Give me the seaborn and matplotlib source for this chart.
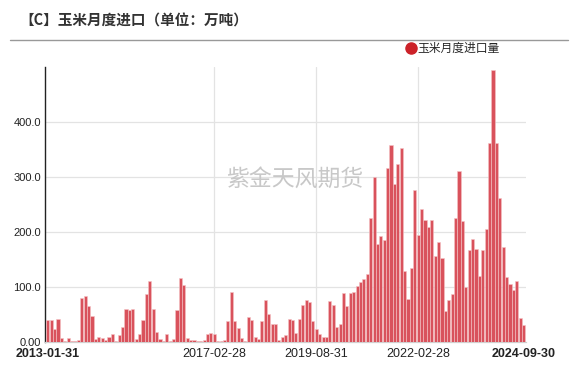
import matplotlib
matplotlib.use("Agg")
import matplotlib.pyplot as plt
from matplotlib.lines import Line2D
import pandas as pd
import seaborn as sns

# monthly corn imports (10k tons), 2013-01 .. 2024-09
values = [
    39, 39, 23, 41, 6, 1, 6, 1, 0.5, 3, 79, 82,          # 2013
    64, 47, 4, 9, 7, 3, 8, 13, 1.5, 11, 26, 60,           # 2014
    58, 60, 5, 14, 40, 87, 110, 60, 17, 4, 1.5, 13,       # 2015
    1, 5, 57, 116, 103, 6, 3, 3, 1.5, 1, 3, 13,           # 2016
    15, 13, 1, 0.5, 3, 37, 91, 37, 24, 6, 1.5, 44,        # 2017
    39, 9, 5, 37, 75, 51, 32, 32, 3, 8, 11, 41,           # 2018
    39, 16, 41, 66, 75, 72, 38, 22, 13, 8, 9, 73,         # 2019
    66, 26, 31, 89, 64, 88, 91, 102, 108, 113, 123, 225,  # 2020
    300, 178, 193, 185, 316, 357, 286, 324, 353, 129, 78, 133,  # 2021
    276, 194, 242, 222, 208, 222, 155, 181, 153, 55, 75, 87,    # 2022
    225, 310, 220, 100, 167, 186, 168, 120, 166, 204, 361, 495, # 2023
    361, 261, 172, 118, 105, 93, 110, 43, 30,                   # 2024
]
dates = pd.date_range("2013-01-31", periods=len(values), freq="ME").strftime("%Y-%m-%d")
tick_labels = ["2013-01-31", "2017-02-28", "2019-08-31", "2022-02-28", "2024-09-30"]
y_ticks = [0, 100, 200, 300, 400]
y_labels = ["0.00", "100.0", "200.0", "300.0", "400.0"]

df = pd.DataFrame({"date": list(dates), "value": values})

sns.set_style("white")
plt.rcParams["font.family"] = ["Liberation Sans", "Noto Sans CJK SC", "DejaVu Sans"]

fig = plt.figure(figsize=(5.78, 3.70), dpi=100)
ax = fig.add_axes([0.078, 0.077, 0.832, 0.742])

sns.barplot(data=df, x="date", y="value", color="#d9525c", saturation=1,
            width=0.92, edgecolor="#f4c3c6", linewidth=0.4, ax=ax, zorder=3)

ax.set_xlim(-0.8, 140.7)
ax.set_ylim(0, 500)
ax.set_xlabel("")
ax.set_ylabel("")

# gridlines
for y in y_ticks[1:]:
    ax.axhline(y, color="#e3e3e3", lw=0.9, zorder=1)
for lab in tick_labels[1:4]:
    ax.axvline(list(dates).index(lab), color="#e3e3e3", lw=0.9, zorder=1)

ax.set_yticks(y_ticks)
ax.set_yticklabels(y_labels, fontsize=8, color="#222222")
ax.set_xticks([list(dates).index(l) for l in tick_labels])
ax.set_xticklabels(tick_labels, fontsize=9, color="#222222")
for i in (0, -1):
    ax.get_xticklabels()[i].set_fontweight("bold")
ax.tick_params(axis="y", length=0, pad=3)
ax.tick_params(axis="x", length=0, pad=5)

for s in ("top", "right"):
    ax.spines[s].set_visible(False)
ax.spines["left"].set_color("#222222")
ax.spines["left"].set_linewidth(1.0)
ax.spines["bottom"].set_color("#d0d0d0")
ax.spines["bottom"].set_linewidth(0.9)

# watermark
ax.text(0.52, 0.59, "紫金天风期货", transform=ax.transAxes, fontsize=16.5,
        color="#c8c8c8", ha="center", va="center", family=["Noto Sans CJK SC"], zorder=2)

# title and rule
fig.text(0.034, 0.945, "【C】玉米月度进口（单位：万吨）", fontsize=10.5, fontweight="bold",
         color="#333333", va="center", family=["Noto Sans CJK SC", "DejaVu Sans"])
fig.add_artist(Line2D([0.017, 0.983], [0.892, 0.892], color="#999999", lw=1))

handle = Line2D([], [], marker="o", linestyle="None", color="#cc2229", markersize=8)
fig.legend([handle], ["玉米月度进口量"], loc="center left", bbox_to_anchor=(0.69, 0.868),
           frameon=False, handletextpad=0.1, borderpad=0, handlelength=1.0,
           prop={"family": "Noto Sans CJK SC", "size": 8.5})

fig.savefig("out.png", dpi=100)
